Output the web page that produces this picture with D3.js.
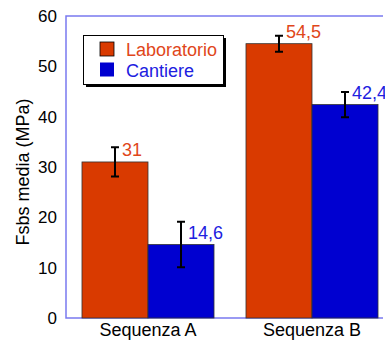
<!DOCTYPE html>
<html>
<head>
<meta charset="utf-8">
<script src="https://cdn.jsdelivr.net/npm/d3@7"></script>
<style>
  body { margin: 0; background: #fff; }
  svg { font-family: "Liberation Sans", Arial, sans-serif; }
</style>
</head>
<body>
<div id="chart"></div>
<script>
const categories = ["Sequenza A", "Sequenza B"];
const seriesNames = ["Laboratorio", "Cantiere"];
const laboratorio = [31, 54.5];
const cantiere = [14.6, 42.4];
const labErr = [2.9, 1.6];
const cantErr = [4.5, 2.5];
const yTicks = [0, 10, 20, 30, 40, 50, 60];

const barColors = ["#d93a00", "#0000d0"];
const textColors = ["#e0461a", "#2020e0"];

const width = 385, height = 340;
const plotLeft = 66, plotTop = 16, plotBottom = 318, frameRight = 383;

const svg = d3.select("#chart").append("svg")
    .attr("width", width)
    .attr("height", height);

const y = d3.scaleLinear().domain([0, 60]).range([plotBottom, plotTop]);
const x0 = d3.scaleBand().domain(categories).range([plotLeft, 394])
    .paddingInner(0.195).paddingOuter(0.0975);
const x1 = d3.scaleBand().domain(seriesNames).range([0, x0.bandwidth()]);

// frame
svg.append("path")
    .attr("d", `M${frameRight},${plotTop}H${plotLeft}V${plotBottom}H${frameRight}`)
    .attr("fill", "none")
    .attr("stroke", "#7a7af0")
    .attr("stroke-width", 1.5);

// y axis labels
const yAxis = d3.axisLeft(y).tickValues(yTicks).tickSize(0).tickPadding(9);
const gy = svg.append("g").attr("transform", `translate(${plotLeft},0)`).call(yAxis);
gy.select(".domain").remove();
gy.selectAll("text").attr("font-size", 17).attr("fill", "#000")
    .attr("font-family", "Liberation Sans, Arial, sans-serif");

svg.append("text")
    .attr("transform", `translate(29,${(plotTop + plotBottom) / 2 + 5}) rotate(-90)`)
    .attr("text-anchor", "middle")
    .attr("font-size", 18)
    .text("Fsbs media (MPa)");

// x axis labels
const xAxis = d3.axisBottom(x0).tickSize(0).tickPadding(5);
const gx = svg.append("g").attr("transform", `translate(0,${plotBottom})`).call(xAxis);
gx.select(".domain").remove();
gx.selectAll("text").attr("font-size", 18).attr("fill", "#000")
    .attr("font-family", "Liberation Sans, Arial, sans-serif");

const series = [
    { name: seriesNames[0], values: laboratorio, err: labErr },
    { name: seriesNames[1], values: cantiere, err: cantErr }
];

series.forEach((s, si) => {
    const g = svg.append("g");
    categories.forEach((c, ci) => {
        const v = s.values[ci];
        const bx = x0(c) + x1(s.name);
        const cx = bx + x1.bandwidth() / 2;
        g.append("rect")
            .attr("x", bx)
            .attr("y", y(v))
            .attr("width", x1.bandwidth())
            .attr("height", y(0) - y(v))
            .attr("fill", barColors[si])
            .attr("stroke", "#333")
            .attr("stroke-width", 0.8);
        const hi = y(v + s.err[ci]), lo = y(v - s.err[ci]);
        g.append("path")
            .attr("d", `M${cx},${hi}V${lo}M${cx - 4},${hi}H${cx + 4}M${cx - 4},${lo}H${cx + 4}`)
            .attr("stroke", "#000")
            .attr("stroke-width", 2)
            .attr("fill", "none");
        g.append("text")
            .attr("x", cx + 7)
            .attr("y", y(v) - 6)
            .attr("font-size", 18)
            .attr("fill", textColors[si])
            .text(String(v).replace(".", ","));
    });
});

// legend
const lg = svg.append("g");
lg.append("rect").attr("x", 86).attr("y", 38).attr("width", 140).attr("height", 49).attr("fill", "#000");
lg.append("rect").attr("x", 83.5).attr("y", 35.5).attr("width", 140).attr("height", 49)
    .attr("fill", "#fff").attr("stroke", "#000").attr("stroke-width", 1);
seriesNames.forEach((n, i) => {
    lg.append("rect")
        .attr("x", 100).attr("y", 42 + i * 20.5)
        .attr("width", 14).attr("height", 14)
        .attr("fill", barColors[i])
        .attr("stroke", i === 0 ? "#000" : "none")
        .attr("stroke-width", 0.8);
    lg.append("text")
        .attr("x", 126).attr("y", 56 + i * 20.5)
        .attr("font-size", 18)
        .attr("fill", textColors[i])
        .text(n);
});
</script>
</body>
</html>
